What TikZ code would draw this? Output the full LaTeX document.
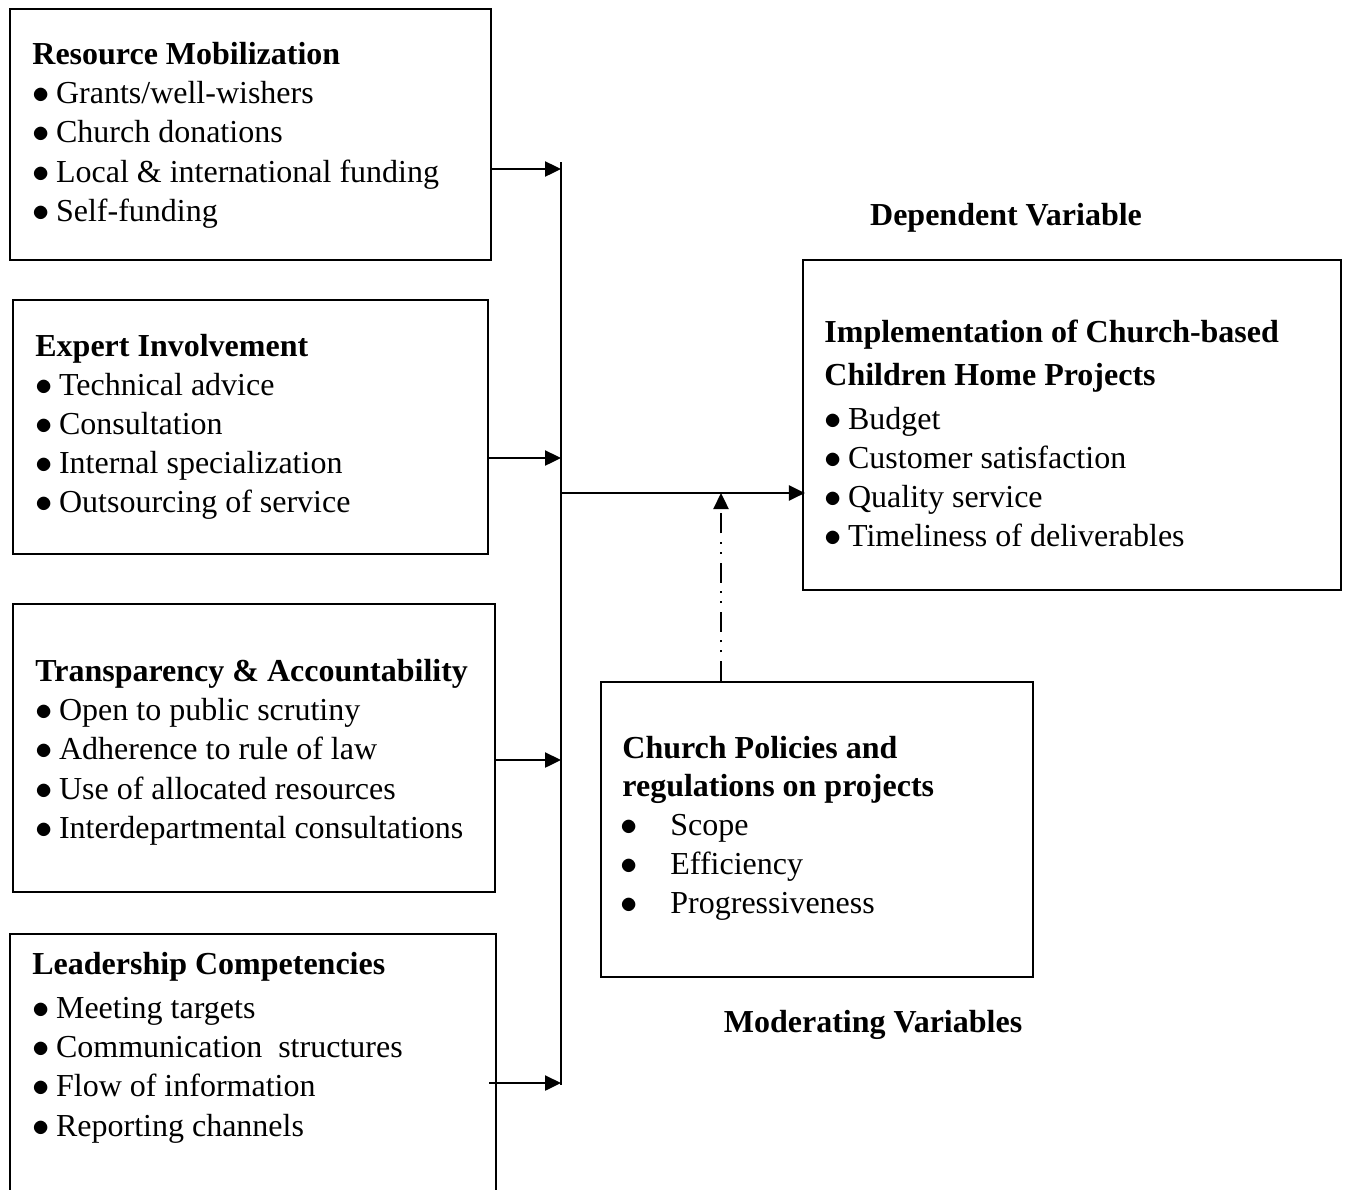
\documentclass[tikz,border=0pt]{standalone}
\usepackage{fontspec}
\setmainfont{Liberation Serif}
\usetikzlibrary{arrows.meta,fit}
\newcommand{\bigbul}{\ensuremath{\bullet}}
\newcommand{\bul}{\bigbul\hspace{3.2pt}}
\begin{document}
\begin{tikzpicture}[x=0.5pt,y=-0.5pt,
  box/.style={draw,line width=1.1pt,inner sep=0pt},
  txt/.style={anchor=base west,inner sep=0pt,yshift=-0.7pt,font=\fontsize{16}{19.5}\selectfont},
  ttl/.style={txt,font=\fontsize{16}{19.5}\selectfont\bfseries},
  lbl/.style={anchor=base,inner sep=0pt,yshift=-0.7pt,font=\fontsize{16}{19.5}\selectfont\bfseries},
  wire/.style={line width=1.2pt},
  arr/.style={line width=1.2pt,-{Triangle[length=8pt,width=7.5pt]}},
  modarr/.style={line width=1.2pt,-{Triangle[length=8pt,width=7.5pt]},
    dash pattern=on 10pt off 4.3pt on 1pt off 4pt on 1pt off 4.3pt}]
\clip (0,0) rectangle (1347,1189);
\fill[white] (0,0) rectangle (1347,1189);

% boxes
\node[box,fit={(10,9)(491,260)}] (b1) {};
\node[box,fit={(13,300)(488,554)}] (b2) {};
\node[box,fit={(13,604)(495,892)}] (b3) {};
\node[box,fit={(10,934)(496,1220)}] (b4) {};
\node[box,fit={(803,260)(1341,590)}] (b5) {};
\node[box,fit={(601,682)(1033,977)}] (b6) {};

% box 1
\node[ttl] (t1) at (32,63) {Resource Mobilization};
\node[txt] (t1a) at (32,102.5) {\bul Grants/well-wishers};
\node[txt] (t1b) at (32,141.5) {\bul Church donations};
\node[txt] (t1c) at (32,181) {\bul Local \& international funding};
\node[txt] (t1d) at (32,220) {\bul Self-funding};

% box 2
\node[ttl] (t2) at (35,355) {Expert Involvement};
\node[txt] (t2a) at (35,394) {\bul Technical advice};
\node[txt] (t2b) at (35,433) {\bul Consultation};
\node[txt] (t2c) at (35,472) {\bul Internal specialization};
\node[txt] (t2d) at (35,511) {\bul Outsourcing of service};

% box 3
\node[ttl] (t3) at (35,680) {Transparency \& Accountability};
\node[txt] (t3a) at (35,719) {\bul Open to public scrutiny};
\node[txt] (t3b) at (35,758) {\bul Adherence to rule of law};
\node[txt] (t3c) at (35,798) {\bul Use of allocated resources};
\node[txt] (t3d) at (35,837) {\bul Interdepartmental consultations};

% box 4
\node[ttl] (t4) at (32,973) {Leadership Competencies};
\node[txt] (t4a) at (32,1017) {\bul Meeting targets};
\node[txt] (t4b) at (32,1056) {\bul Communication\ \ structures};
\node[txt] (t4c) at (32,1095) {\bul Flow of information};
\node[txt] (t4d) at (32,1135) {\bul Reporting channels};

% box 5
\node[ttl] (t5) at (824,341.5) {Implementation of Church-based};
\node[ttl] (t5x) at (824,384) {Children Home Projects};
\node[txt] (t5a) at (824,428) {\bul Budget};
\node[txt] (t5b) at (824,467) {\bul Customer satisfaction};
\node[txt] (t5c) at (824,506) {\bul Quality service};
\node[txt] (t5d) at (824,545) {\bul Timeliness of deliverables};

% box 6
\node[ttl] (t6) at (622,757) {Church Policies and};
\node[ttl] (t6x) at (622,795) {regulations on projects};
\node[txt] (p1) at (620,834) {\bigbul};
\node[txt] (t6a) at (670,834) {Scope};
\node[txt] (p2) at (620,873) {\bigbul};
\node[txt] (t6b) at (670,873) {Efficiency};
\node[txt] (p3) at (620,912) {\bigbul};
\node[txt] (t6c) at (670,912) {Progressiveness};

% labels
\node[lbl] (dep) at (1006,224) {Dependent Variable};
\node[lbl] (mod) at (873,1031) {Moderating Variables};

% bus
\coordinate (bt) at (561,162);
\coordinate (bb) at (561,1085);
\coordinate (a1) at (561,169);
\coordinate (a2) at (561,458);
\coordinate (a3) at (561,760);
\coordinate (a4) at (561,1083);
\coordinate (s4) at (489,1083);
\coordinate (m0) at (561,493);
\coordinate (mj) at (721,493);

\draw[wire] (bt) -- (bb);
\draw[arr] (b1.east |- a1) -- (a1);
\draw[arr] (b2.east |- a2) -- (a2);
\draw[arr] (b3.east |- a3) -- (a3);
\draw[arr] (s4) -- (a4);
\draw[arr] (m0) -- ([xshift=1.5pt]b5.west |- m0);
\draw[modarr] (b6.north -| mj) -- (mj);
\end{tikzpicture}
\end{document}
